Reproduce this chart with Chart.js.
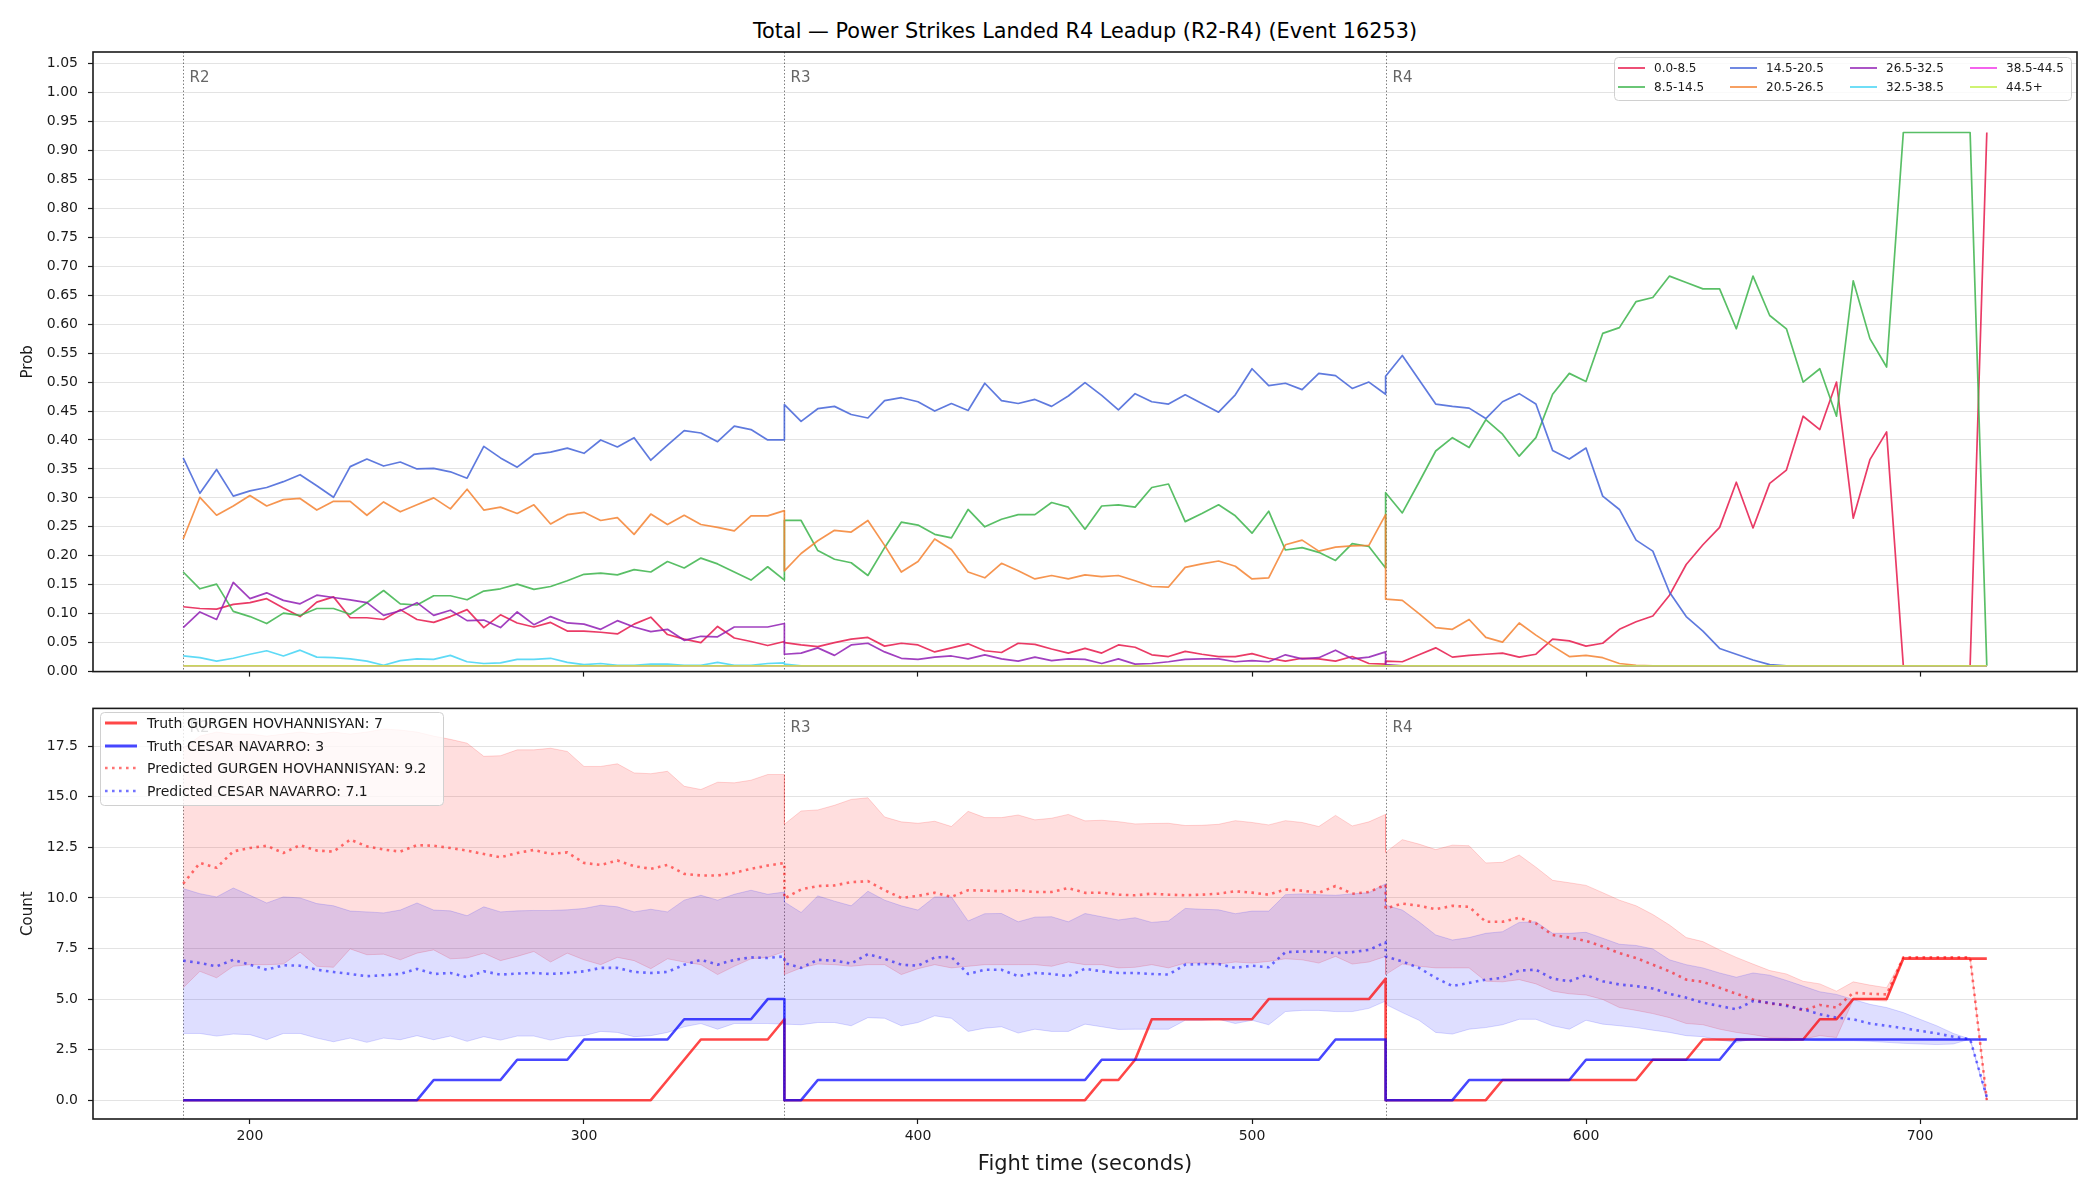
<!DOCTYPE html>
<html>
<head>
<meta charset="utf-8">
<script src="https://cdn.jsdelivr.net/npm/chart.js@4.4.1/dist/chart.umd.min.js"></script>
<style>
  html, body { margin: 0; padding: 0; background: #fff; overflow: hidden; }
  #wrap { position: relative; width: 2100px; height: 1200px; background: #fff; }
  #title { position: absolute; left: 93px; width: 1984px; top: 18px; text-align: center;
           font-family: "DejaVu Sans", sans-serif; font-size: 20.8px; line-height: 26px; color: #000; }
  canvas { position: absolute; left: 0; }
</style>
</head>
<body>
<div id="wrap">
  <div id="title">Total — Power Strikes Landed R4 Leadup (R2-R4) (Event 16253)</div>
  <canvas id="probChart" width="2100" height="690" style="top:0px"></canvas>
  <canvas id="countChart" width="2100" height="510" style="top:690px"></canvas>
</div>
<script>
Chart.defaults.font.family = '"DejaVu Sans", sans-serif';
Chart.defaults.font.size = 14;
Chart.defaults.color = '#1a1a1a';

// rounds: each one sampled every 5 s from its start to its end
const ROUND_STARTS = [180, 360, 540];
const ROUND_NAMES = ['R2', 'R3', 'R4'];
const ROUND_SECONDS = 180;
const STEP_SECONDS = 5;

const times = [];
ROUND_STARTS.forEach(function (s) {
  for (let t = s; t <= s + ROUND_SECONDS; t += STEP_SECONDS) times.push(t);
});

const TIME_TICKS = [200, 300, 400, 500, 600, 700];
const PROB_TICKS = [0, 0.05, 0.1, 0.15, 0.2, 0.25, 0.3, 0.35, 0.4, 0.45, 0.5, 0.55, 0.6, 0.65, 0.7, 0.75, 0.8, 0.85, 0.9, 0.95, 1.0, 1.05];
const COUNT_TICKS = [0, 2.5, 5, 7.5, 10, 12.5, 15, 17.5];

// ---- top panel: probability per bin ----
const BIN_LABELS = ['0.0-8.5', '8.5-14.5', '14.5-20.5', '20.5-26.5', '26.5-32.5', '32.5-38.5', '38.5-44.5', '44.5+'];

const prob0_8 = [
  0.112,0.109,0.108,0.116,0.119,0.126,0.110,0.095,0.120,0.129,0.093,0.093,0.090,0.107,0.090,0.085,0.095,0.107,0.076,0.098,0.084,0.077,0.085,0.070,0.070,0.068,0.065,0.082,0.094,0.064,0.056,0.050,0.078,0.058,0.052,0.045,0.052,
  0.050,0.046,0.043,0.050,0.056,0.059,0.044,0.049,0.046,0.034,0.041,0.048,0.036,0.033,0.049,0.047,0.039,0.032,0.040,0.032,0.046,0.042,0.029,0.026,0.035,0.030,0.026,0.026,0.031,0.023,0.018,0.023,0.022,0.018,0.026,0.014,0.013,
  0.018,0.017,0.029,0.041,0.025,0.028,0.030,0.032,0.025,0.030,0.056,0.053,0.044,0.049,0.073,0.086,0.096,0.132,0.185,0.219,0.249,0.327,0.248,0.325,0.348,0.441,0.418,0.500,0.265,0.366,0.414,0.010,0.010,0.010,0.010,0.010,0.931
];
const prob8_14 = [
  0.172,0.143,0.151,0.104,0.095,0.083,0.101,0.097,0.109,0.109,0.099,0.119,0.140,0.117,0.115,0.131,0.131,0.124,0.139,0.143,0.151,0.142,0.147,0.157,0.168,0.170,0.167,0.176,0.172,0.190,0.179,0.196,0.186,0.172,0.158,0.181,0.158,
  0.261,0.261,0.209,0.194,0.188,0.166,0.214,0.258,0.253,0.237,0.231,0.280,0.250,0.263,0.271,0.271,0.292,0.284,0.246,0.286,0.288,0.284,0.318,0.324,0.259,0.273,0.288,0.269,0.239,0.277,0.210,0.214,0.206,0.192,0.221,0.216,0.179,
  0.309,0.274,0.327,0.381,0.404,0.387,0.435,0.410,0.372,0.404,0.479,0.515,0.501,0.584,0.594,0.639,0.646,0.683,0.672,0.661,0.661,0.592,0.683,0.615,0.592,0.500,0.523,0.441,0.675,0.575,0.526,0.931,0.931,0.931,0.931,0.931,0.010
];
const prob14_20 = [
  0.369,0.308,0.349,0.303,0.312,0.318,0.328,0.340,0.321,0.301,0.354,0.367,0.355,0.362,0.350,0.351,0.345,0.334,0.389,0.369,0.353,0.375,0.379,0.386,0.377,0.400,0.388,0.404,0.365,0.391,0.416,0.412,0.397,0.424,0.418,0.400,0.400,
  0.461,0.432,0.454,0.458,0.444,0.438,0.468,0.473,0.466,0.450,0.463,0.451,0.498,0.468,0.463,0.470,0.458,0.476,0.499,0.477,0.452,0.480,0.466,0.462,0.478,0.463,0.448,0.478,0.523,0.494,0.498,0.487,0.515,0.511,0.489,0.500,0.479,
  0.510,0.546,0.504,0.462,0.458,0.455,0.437,0.466,0.480,0.462,0.382,0.367,0.386,0.303,0.280,0.227,0.208,0.137,0.095,0.070,0.040,0.030,0.020,0.012,
  0.010,0.010,0.010,0.010,0.010,0.010,0.010,0.010,0.010,0.010,0.010,0.010,0.010
];
const prob20_26 = [
  0.229,0.301,0.270,0.286,0.304,0.286,0.297,0.299,0.279,0.294,0.294,0.270,0.293,0.276,0.288,0.300,0.281,0.315,0.279,0.284,0.273,0.288,0.255,0.271,0.275,0.261,0.266,0.237,0.272,0.254,0.270,0.254,0.249,0.243,0.269,0.269,0.278,
  0.174,0.204,0.226,0.244,0.241,0.261,0.218,0.172,0.190,0.229,0.211,0.172,0.162,0.187,0.174,0.160,0.166,0.160,0.167,0.164,0.166,0.157,0.147,0.146,0.180,0.186,0.191,0.182,0.160,0.162,0.219,0.227,0.208,0.215,0.217,0.218,0.271,
  0.125,0.123,0.100,0.076,0.073,0.090,0.059,0.051,0.084,0.063,0.044,0.026,0.028,0.024,0.014,0.011,
  0.010,0.010,0.010,0.010,0.010,0.010,0.010,0.010,0.010,0.010,0.010,0.010,0.010,0.010,0.010,0.010,0.010,0.010,0.010,0.010,0.010
];
const prob26_32 = [
  0.076,0.103,0.090,0.154,0.126,0.136,0.123,0.117,0.132,0.128,0.124,0.119,0.097,0.105,0.119,0.097,0.106,0.088,0.089,0.076,0.103,0.081,0.095,0.084,0.082,0.073,0.088,0.077,0.069,0.073,0.054,0.061,0.060,0.077,0.077,0.077,0.083,
  0.030,0.032,0.041,0.028,0.046,0.049,0.034,0.023,0.021,0.025,0.027,0.022,0.029,0.022,0.018,0.025,0.019,0.022,0.021,0.014,0.022,0.013,0.014,0.017,0.021,0.022,0.022,0.017,0.019,0.017,0.029,0.022,0.024,0.037,0.022,0.025,0.034,
  0.012,0.010,0.010,0.010,0.010,0.010,0.010,0.010,0.010,0.010,0.010,0.010,0.010,0.010,0.010,0.010,0.010,0.010,0.010,0.010,0.010,0.010,0.010,0.010,0.010,0.010,0.010,0.010,0.010,0.010,0.010,0.010,0.010,0.010,0.010,0.010,0.010
];
const prob32_38 = [
  0.027,0.024,0.018,0.023,0.030,0.036,0.027,0.037,0.025,0.024,0.022,0.018,0.011,0.019,0.022,0.021,0.028,0.017,0.014,0.015,0.021,0.021,0.023,0.016,0.012,0.014,0.011,0.011,0.013,0.013,0.011,0.011,0.016,0.011,0.011,0.014,0.015,
  0.013,0.010,0.010,0.010,0.010,0.010,0.010,0.010,0.010,0.010,0.010,0.010,0.010,0.010,0.010,0.010,0.010,0.010,0.010,0.010,0.010,0.010,0.010,0.010,0.010,0.010,0.010,0.010,0.010,0.010,0.010,0.010,0.010,0.010,0.010,0.010,0.010,
  0.010,0.010,0.010,0.010,0.010,0.010,0.010,0.010,0.010,0.010,0.010,0.010,0.010,0.010,0.010,0.010,0.010,0.010,0.010,0.010,0.010,0.010,0.010,0.010,0.010,0.010,0.010,0.010,0.010,0.010,0.010,0.010,0.010,0.010,0.010,0.010,0.010
];
const prob38_44 = [
  0.010,0.010,0.010,0.010,0.010,0.010,0.010,0.010,0.010,0.010,0.010,0.010,0.010,0.010,0.010,0.010,0.010,0.010,0.010,0.010,0.010,0.010,0.010,0.010,0.010,0.010,0.010,0.010,0.010,0.010,0.010,0.010,0.010,0.010,0.010,0.010,0.010,
  0.010,0.010,0.010,0.010,0.010,0.010,0.010,0.010,0.010,0.010,0.010,0.010,0.010,0.010,0.010,0.010,0.010,0.010,0.010,0.010,0.010,0.010,0.010,0.010,0.010,0.010,0.010,0.010,0.010,0.010,0.010,0.010,0.010,0.010,0.010,0.010,0.010,
  0.010,0.010,0.010,0.010,0.010,0.010,0.010,0.010,0.010,0.010,0.010,0.010,0.010,0.010,0.010,0.010,0.010,0.010,0.010,0.010,0.010,0.010,0.010,0.010,0.010,0.010,0.010,0.010,0.010,0.010,0.010,0.010,0.010,0.010,0.010,0.010,0.010
];
const prob44_up = [
  0.010,0.010,0.010,0.010,0.010,0.010,0.010,0.010,0.010,0.010,0.010,0.010,0.010,0.010,0.010,0.010,0.010,0.010,0.010,0.010,0.010,0.010,0.010,0.010,0.010,0.010,0.010,0.010,0.010,0.010,0.010,0.010,0.010,0.010,0.010,0.010,0.010,
  0.010,0.010,0.010,0.010,0.010,0.010,0.010,0.010,0.010,0.010,0.010,0.010,0.010,0.010,0.010,0.010,0.010,0.010,0.010,0.010,0.010,0.010,0.010,0.010,0.010,0.010,0.010,0.010,0.010,0.010,0.010,0.010,0.010,0.010,0.010,0.010,0.010,
  0.010,0.010,0.010,0.010,0.010,0.010,0.010,0.010,0.010,0.010,0.010,0.010,0.010,0.010,0.010,0.010,0.010,0.010,0.010,0.010,0.010,0.010,0.010,0.010,0.010,0.010,0.010,0.010,0.010,0.010,0.010,0.010,0.010,0.010,0.010,0.010,0.010
];

// ---- bottom panel: counts ----
const COUNT_LABELS = ['Truth GURGEN HOVHANNISYAN: 7', 'Truth CESAR NAVARRO: 3', 'Predicted GURGEN HOVHANNISYAN: 9.2', 'Predicted CESAR NAVARRO: 7.1'];

const truthRed = [
  0,0,0,0,0,0,0,0,0,0, 0,0,0,0,0,0,0,0,0,0, 0,0,0,0,0,0,0,0,0, 1,2,3,3,3,3,3,4,
  0,0,0,0,0,0,0,0,0,0, 0,0,0,0,0,0,0,0,0, 1,1,2,4,4,4,4,4,4,4,5,5,5,5,5,5,5,6,
  0,0,0,0,0,0,0, 1,1,1,1,1,1,1,1,1, 2,2,2, 3,3,3,3,3,3,3, 4,4, 5,5,5, 7,7,7,7,7,7
];
const truthBlue = [
  0,0,0,0,0,0,0,0,0,0,0,0,0,0,0, 1,1,1,1,1, 2,2,2,2, 3,3,3,3,3,3, 4,4,4,4,4, 5,5,
  0,0, 1,1,1,1,1,1,1,1,1,1,1,1,1,1,1,1,1, 2,2,2,2,2,2,2,2,2,2,2,2,2,2, 3,3,3,3,
  0,0,0,0,0, 1,1,1,1,1,1,1, 2,2,2,2,2,2,2,2,2, 3,3,3,3,3,3,3,3,3,3,3,3,3,3,3,3
];
const predRed = [
  10.70,11.73,11.49,12.30,12.47,12.58,12.22,12.61,12.34,12.29,12.88,12.55,12.39,12.29,12.61,12.58,12.47,12.34,12.17,12.01,12.22,12.37,12.17,12.25,11.73,11.63,11.85,11.57,11.44,11.63,11.19,11.11,11.11,11.24,11.44,11.60,11.73,
  9.97,10.42,10.59,10.62,10.78,10.83,10.38,10.00,10.10,10.26,10.05,10.38,10.36,10.33,10.38,10.29,10.29,10.49,10.25,10.26,10.16,10.13,10.21,10.16,10.13,10.16,10.21,10.33,10.26,10.16,10.42,10.36,10.25,10.59,10.21,10.29,10.65,
  9.48,9.72,9.61,9.44,9.61,9.56,8.82,8.82,9.02,8.74,8.17,8.04,7.88,7.60,7.27,7.03,6.70,6.37,5.96,5.85,5.56,5.26,4.98,4.77,4.71,4.44,4.71,4.58,5.31,5.26,5.23,7.06,7.06,7.06,7.06,7.06,0.00
];
const predBlue = [
  6.90,6.78,6.62,6.94,6.70,6.45,6.67,6.65,6.45,6.34,6.24,6.13,6.18,6.24,6.49,6.24,6.29,6.08,6.37,6.21,6.26,6.29,6.24,6.29,6.37,6.54,6.54,6.34,6.29,6.34,6.70,6.94,6.70,6.94,7.06,7.03,7.11,
  6.78,6.54,6.94,6.90,6.75,7.22,6.99,6.70,6.65,7.06,7.08,6.24,6.45,6.45,6.13,6.29,6.24,6.13,6.50,6.37,6.29,6.29,6.24,6.21,6.70,6.73,6.73,6.54,6.65,6.57,7.32,7.35,7.35,7.27,7.32,7.43,7.81,
  7.11,6.86,6.54,6.05,5.64,5.80,5.96,6.05,6.41,6.45,6.01,5.88,6.18,5.88,5.72,5.64,5.52,5.26,5.07,4.82,4.66,4.49,4.90,4.82,4.66,4.49,4.25,4.08,4.00,3.79,3.68,3.56,3.43,3.30,3.14,3.02,0.16
];
const redHigh = [
  17.40,18.00,18.20,18.10,18.10,18.00,18.10,18.20,18.10,18.20,18.10,18.20,18.35,18.30,18.20,18.00,17.84,17.65,17.00,17.03,17.32,17.32,17.40,17.24,16.50,16.50,16.63,16.18,16.14,16.26,15.52,15.36,15.72,15.69,15.82,16.10,16.10,
  13.64,14.30,14.35,14.58,14.87,14.95,14.00,13.76,13.69,13.79,13.53,14.28,13.97,13.97,14.10,13.86,13.94,14.13,13.81,13.84,13.77,13.66,13.68,13.69,13.58,13.59,13.64,13.82,13.73,13.61,13.82,13.73,13.53,14.08,13.56,13.76,14.13,
  12.25,12.88,12.66,12.39,12.61,12.58,11.73,11.76,12.12,11.52,10.87,10.75,10.62,10.26,9.89,9.61,9.18,8.66,8.04,7.84,7.43,7.06,6.73,6.41,6.24,5.88,5.75,5.39,5.85,5.69,5.56,7.06,7.06,7.06,7.06,7.06,0.00
];
const redLow = [
  5.56,6.37,6.05,6.62,6.70,6.70,6.73,7.32,6.62,6.57,7.48,7.19,7.22,6.94,7.27,7.43,6.99,7.03,7.27,6.90,7.11,7.35,6.83,7.27,6.94,6.70,7.06,6.90,6.50,6.99,6.83,6.70,6.21,6.62,6.99,7.06,7.35,
  6.21,6.54,6.73,6.70,6.62,6.70,6.70,6.21,6.50,6.70,6.54,6.62,6.70,6.70,6.70,6.70,6.62,6.83,6.70,6.70,6.54,6.57,6.70,6.54,6.78,6.78,6.73,6.83,6.78,6.86,6.99,6.94,6.78,7.11,6.73,6.83,7.11,
  6.21,6.73,6.62,6.54,6.54,6.54,5.88,5.85,5.96,5.75,5.39,5.26,5.20,4.98,4.58,4.44,4.28,4.08,3.79,3.73,3.51,3.35,3.24,3.10,3.07,3.02,3.19,3.10,4.95,4.95,4.90,7.06,7.06,7.06,7.06,7.06,0.00
];
const blueHigh = [
  10.46,10.21,10.05,10.49,10.13,9.75,10.05,10.00,9.72,9.61,9.35,9.31,9.26,9.40,9.75,9.40,9.36,9.12,9.56,9.31,9.36,9.38,9.38,9.41,9.48,9.64,9.56,9.31,9.44,9.31,9.89,10.13,9.89,10.18,10.38,10.18,10.29,
  9.80,9.28,10.10,9.84,9.61,10.33,9.89,9.61,9.40,10.05,10.05,8.86,9.22,9.23,8.82,9.05,9.07,8.82,9.23,9.07,8.91,9.02,8.79,8.86,9.48,9.44,9.41,9.22,9.35,9.35,10.16,10.20,10.16,10.13,10.20,10.26,10.70,
  9.64,9.40,8.82,8.17,7.92,8.04,8.25,8.33,8.79,8.82,8.25,8.25,8.30,8.01,7.71,7.65,7.48,6.94,6.70,6.54,6.29,6.08,6.29,6.18,5.92,5.64,5.36,5.23,4.98,4.74,4.58,4.33,4.00,3.68,3.30,3.02,0.16
];
const blueLow = [
  3.30,3.30,3.17,3.27,3.24,2.99,3.30,3.30,3.07,2.89,3.07,2.86,3.07,2.99,3.19,2.99,3.17,2.91,3.14,2.97,3.17,3.17,2.97,3.14,3.19,3.40,3.35,3.14,3.19,3.35,3.63,3.79,3.51,3.79,3.79,3.79,3.76,
  3.76,3.73,3.84,3.84,3.68,4.08,4.05,3.68,3.84,4.17,4.05,3.40,3.56,3.63,3.32,3.51,3.40,3.40,3.76,3.63,3.50,3.51,3.51,3.51,3.95,3.95,4.00,3.79,3.95,3.73,4.38,4.44,4.44,4.38,4.38,4.54,4.90,
  4.74,4.33,3.95,3.35,3.27,3.51,3.59,3.73,4.00,4.00,3.68,3.51,3.95,3.76,3.68,3.59,3.46,3.35,3.19,3.14,2.97,2.86,3.02,2.97,2.94,2.97,2.94,2.94,2.94,2.91,2.86,2.81,2.78,2.75,2.78,3.02,0.00
];

// ---- styles ----
const binColors = [
  'rgba(230,25,75,0.85)', 'rgba(60,180,75,0.85)', 'rgba(67,99,216,0.85)', 'rgba(245,130,49,0.85)',
  'rgba(145,30,180,0.85)', 'rgba(66,212,244,0.85)', 'rgba(240,50,230,0.85)', 'rgba(191,239,69,0.85)'
];
const RED_LINE = 'rgba(255,0,0,0.72)';
const BLUE_LINE = 'rgba(0,0,255,0.72)';
const RED_DOT = 'rgba(255,0,0,0.55)';
const BLUE_DOT = 'rgba(0,0,255,0.55)';
const RED_FILL = 'rgba(255,0,0,0.13)';
const BLUE_FILL = 'rgba(0,0,255,0.13)';
const RED_EDGE = 'rgba(255,0,0,0.16)';
const BLUE_EDGE = 'rgba(0,0,255,0.15)';

function toPoints(vals) {
  if (vals.length !== times.length) console.error('length mismatch', vals.length);
  return vals.map(function (y, i) { return { x: times[i], y: y }; });
}

// dotted round separators with labels
function roundMarks(labelOffset) {
  return {
    id: 'roundMarks',
    beforeDatasetsDraw(chart) {
      const ctx = chart.ctx, area = chart.chartArea, xs = chart.scales.x;
      ctx.save();
      ROUND_STARTS.forEach(function (s, i) {
        const x = Math.round(xs.getPixelForValue(s)) + 0.5;
        ctx.strokeStyle = 'rgba(0,0,0,0.5)';
        ctx.lineWidth = 1;
        ctx.setLineDash([1.5, 2]);
        ctx.beginPath();
        ctx.moveTo(x, area.top);
        ctx.lineTo(x, area.bottom);
        ctx.stroke();
        ctx.setLineDash([]);
        ctx.fillStyle = '#666';
        ctx.font = '15px "DejaVu Sans"';
        ctx.textAlign = 'left';
        ctx.textBaseline = 'middle';
        ctx.fillText(ROUND_NAMES[i], x + 6, area.top + labelOffset);
      });
      ctx.restore();
    }
  };
}

const frame = {
  id: 'frame',
  afterDatasetsDraw(chart) {
    const ctx = chart.ctx, a = chart.chartArea;
    ctx.save();
    ctx.strokeStyle = '#1a1a1a';
    ctx.lineWidth = 1.6;
    ctx.strokeRect(a.left, a.top, a.right - a.left, a.bottom - a.top);
    ctx.restore();
  }
};

// matplotlib-like legend box
function boxLegend(cfg) {
  return {
    id: 'boxLegend',
    afterDatasetsDraw(chart) {
      const ctx = chart.ctx;
      ctx.save();
      ctx.beginPath();
      ctx.roundRect(cfg.x + 0.5, cfg.y + 0.5, cfg.w, cfg.h, 4);
      ctx.fillStyle = 'rgba(255,255,255,0.8)';
      ctx.fill();
      ctx.strokeStyle = '#d0d0d0';
      ctx.lineWidth = 1;
      ctx.stroke();
      ctx.font = cfg.fontSize + 'px "DejaVu Sans"';
      ctx.textBaseline = 'middle';
      ctx.textAlign = 'left';
      cfg.items.forEach(function (it) {
        ctx.strokeStyle = it.color;
        ctx.lineWidth = it.width;
        ctx.setLineDash(it.dash || []);
        ctx.beginPath();
        ctx.moveTo(it.x, it.y);
        ctx.lineTo(it.x + cfg.lineLen, it.y);
        ctx.stroke();
        ctx.setLineDash([]);
        ctx.fillStyle = '#1a1a1a';
        ctx.fillText(it.label, it.x + cfg.textGap, it.y + 1);
      });
      ctx.restore();
    }
  };
}

function xAxis(showLabels, height) {
  return {
    type: 'linear',
    min: 153,
    max: 747,
    grid: { drawOnChartArea: false, drawTicks: true, tickLength: 5, tickColor: '#1a1a1a', tickWidth: 1.2 },
    border: { display: false },
    ticks: { display: showLabels, padding: 4, autoSkip: false, maxRotation: 0, font: { size: 14 },
             callback: function (v) { return String(v); } },
    title: showLabels ? { display: true, text: 'Fight time (seconds)', font: { size: 21 }, padding: { top: 0, bottom: 23 } }
                      : { display: false },
    afterBuildTicks: function (scale) { scale.ticks = TIME_TICKS.map(function (v) { return { value: v }; }); },
    afterFit: function (scale) { scale.height = height; }
  };
}

function yAxis(min, max, tickVals, decimals, titleText) {
  return {
    type: 'linear',
    min: min,
    max: max,
    grid: { color: 'rgba(0,0,0,0.11)', lineWidth: 1, drawTicks: true, tickLength: 5, tickColor: '#1a1a1a', tickWidth: 1.2 },
    border: { display: false },
    ticks: { padding: 10, autoSkip: false, font: { size: 14 },
             callback: function (v) { return Number(v).toFixed(decimals); } },
    title: { display: true, text: titleText, font: { size: 15 }, padding: { top: 19, bottom: 0 } },
    afterBuildTicks: function (scale) { scale.ticks = tickVals.map(function (v) { return { value: v }; }); },
    afterFit: function (scale) { scale.width = 93; }
  };
}

// ---- top chart ----
const binSeries = [prob0_8, prob8_14, prob14_20, prob20_26, prob26_32, prob32_38, prob38_44, prob44_up];
const probDatasets = binSeries.map(function (vals, i) {
  return {
    label: BIN_LABELS[i],
    data: toPoints(vals),
    borderColor: binColors[i],
    borderWidth: 1.7,
    pointRadius: 0,
    tension: 0,
    fill: false,
    borderJoinStyle: 'round',
    order: binSeries.length - i
  };
});

const topLegendCols = [1618, 1730, 1850, 1970];
const topLegendRows = [68, 87];
const topLegendItems = BIN_LABELS.map(function (lab, i) {
  return { label: lab, color: binColors[i], width: 1.8,
           x: topLegendCols[Math.floor(i / 2)], y: topLegendRows[i % 2] };
});

new Chart(document.getElementById('probChart'), {
  type: 'line',
  data: { datasets: probDatasets },
  options: {
    responsive: false,
    animation: false,
    events: [],
    layout: { padding: { top: 52, right: 23, bottom: 0, left: 0 } },
    plugins: { legend: { display: false }, tooltip: { enabled: false }, title: { display: false } },
    scales: {
      x: xAxis(false, 16),
      y: yAxis(0, 1.07, PROB_TICKS, 2, 'Prob')
    }
  },
  plugins: [roundMarks(26), frame,
    boxLegend({ x: 1614, y: 57, w: 457, h: 43, fontSize: 12, lineLen: 27, textGap: 36, items: topLegendItems })]
});

// ---- bottom chart ----
function lineSet(label, vals, color, width, dash, order, fill, bg) {
  return {
    label: label,
    data: toPoints(vals),
    borderColor: color,
    borderWidth: width,
    borderDash: dash,
    pointRadius: 0,
    tension: 0,
    fill: fill,
    backgroundColor: bg || 'transparent',
    borderJoinStyle: 'round',
    order: order
  };
}

const countDatasets = [
  lineSet('red upper', redHigh, RED_EDGE, 1, [], 7, 1, RED_FILL),
  lineSet('red lower', redLow, RED_EDGE, 1, [], 6, false),
  lineSet('blue upper', blueHigh, BLUE_EDGE, 1, [], 5, 3, BLUE_FILL),
  lineSet('blue lower', blueLow, BLUE_EDGE, 1, [], 4, false),
  lineSet(COUNT_LABELS[0], truthRed, RED_LINE, 2.6, [], 3, false),
  lineSet(COUNT_LABELS[1], truthBlue, BLUE_LINE, 2.6, [], 2, false),
  lineSet(COUNT_LABELS[2], predRed, RED_DOT, 2.6, [2.6, 4.4], 1, false),
  lineSet(COUNT_LABELS[3], predBlue, BLUE_DOT, 2.6, [2.6, 4.4], 0, false)
];

const bottomLegendRows = [33, 56, 78, 101];
const bottomLegendItems = [
  { label: COUNT_LABELS[0], color: RED_LINE, width: 3, dash: [], x: 105, y: bottomLegendRows[0] },
  { label: COUNT_LABELS[1], color: BLUE_LINE, width: 3, dash: [], x: 105, y: bottomLegendRows[1] },
  { label: COUNT_LABELS[2], color: RED_DOT, width: 2.6, dash: [2.6, 4.4], x: 105, y: bottomLegendRows[2] },
  { label: COUNT_LABELS[3], color: BLUE_DOT, width: 2.6, dash: [2.6, 4.4], x: 105, y: bottomLegendRows[3] }
];

new Chart(document.getElementById('countChart'), {
  type: 'line',
  data: { datasets: countDatasets },
  options: {
    responsive: false,
    animation: false,
    events: [],
    layout: { padding: { top: 13, right: 23, bottom: 0, left: 0 } },
    plugins: { legend: { display: false }, tooltip: { enabled: false }, title: { display: false },
               filler: { propagate: false } },
    scales: {
      x: xAxis(true, 81),
      y: yAxis(-0.93, 19.37, COUNT_TICKS, 1, 'Count')
    }
  },
  plugins: [roundMarks(20), frame,
    boxLegend({ x: 100, y: 22, w: 343, h: 93, fontSize: 14, lineLen: 32, textGap: 42, items: bottomLegendItems })]
});
</script>
</body>
</html>
